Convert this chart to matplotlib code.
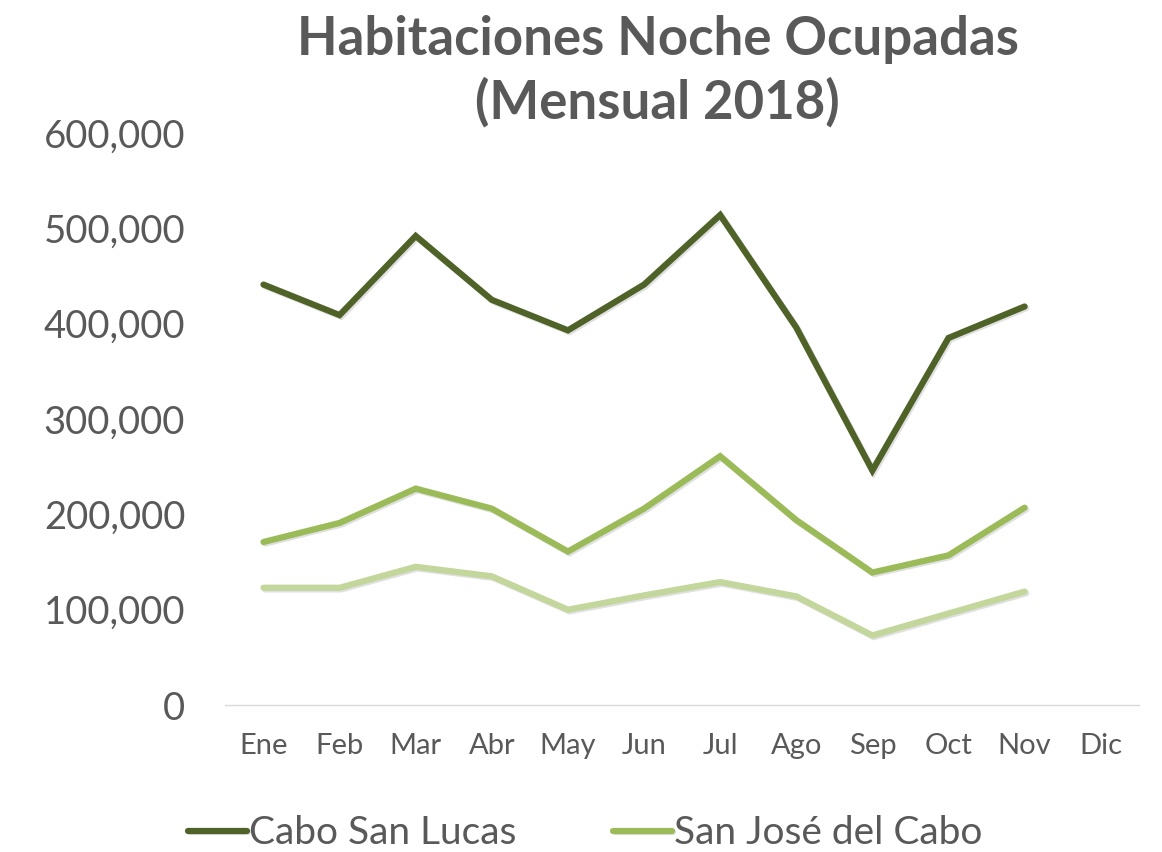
import matplotlib
matplotlib.use('Agg')
import matplotlib.pyplot as plt
import matplotlib.patheffects as pe
from matplotlib.ticker import FuncFormatter

plt.rcParams['font.family'] = ['Lato', 'DejaVu Sans']

# Datos mensuales 2018
meses = ['Ene', 'Feb', 'Mar', 'Abr', 'May', 'Jun', 'Jul', 'Ago', 'Sep', 'Oct', 'Nov', 'Dic']
cabo_san_lucas = [441000, 409000, 492000, 425000, 393000, 441000, 514000, 396000, 246000, 385000, 418000]
san_jose = [171000, 191000, 227000, 206000, 161000, 206000, 261000, 194000, 139000, 157000, 207000]
corredor = [123000, 123000, 145000, 135000, 100000, 115000, 129000, 114000, 73000, 96000, 119000]

gris = '#595959'

fig = plt.figure(figsize=(11.62, 8.52), dpi=100)
ax = fig.add_axes([0.194, 0.1725, 0.786, 0.6714])

sombra = [pe.SimpleLineShadow(offset=(1.2, -1.2), alpha=0.12), pe.Normal()]
series = [
    (cabo_san_lucas, '#4F6228', 'Cabo San Lucas'),
    (san_jose, '#9BBB59', 'San José del Cabo'),
    (corredor, '#C3D69B', None),
]
for valores, color, nombre in series:
    ax.plot(range(len(valores)), valores, color=color, lw=4.5,
            solid_capstyle='round', solid_joinstyle='miter',
            path_effects=sombra, label=nombre)

ax.set_xlim(-0.5, 11.5)
ax.set_ylim(0, 600000)
ax.set_xticks(range(len(meses)))
ax.set_xticklabels(meses)
ax.set_yticks(range(0, 600001, 100000))
ax.yaxis.set_major_formatter(FuncFormatter(lambda v, p: f'{int(v):,}'))
ax.tick_params(axis='x', length=0, labelsize=21, colors=gris, pad=20)
ax.tick_params(axis='y', length=0, labelsize=27.5, colors=gris, pad=29)
for lado in ['top', 'right', 'left']:
    ax.spines[lado].set_visible(False)
ax.spines['bottom'].set_color('#D9D9D9')
ax.spines['bottom'].set_linewidth(1)

fig.text(0.566, 0.916, 'Habitaciones Noche Ocupadas\n(Mensual 2018)', ha='center', va='center',
         fontsize=38, fontweight='bold', color=gris, linespacing=1.3)

handles, labels = ax.get_legend_handles_labels()
fig.legend(handles, labels, loc='center left', bbox_to_anchor=(0.132, 0.022), ncol=2,
           frameon=False, fontsize=28, labelcolor=gris, handlelength=1.5,
           handletextpad=0.05, columnspacing=2.5)

fig.savefig('out.png', dpi=100)
